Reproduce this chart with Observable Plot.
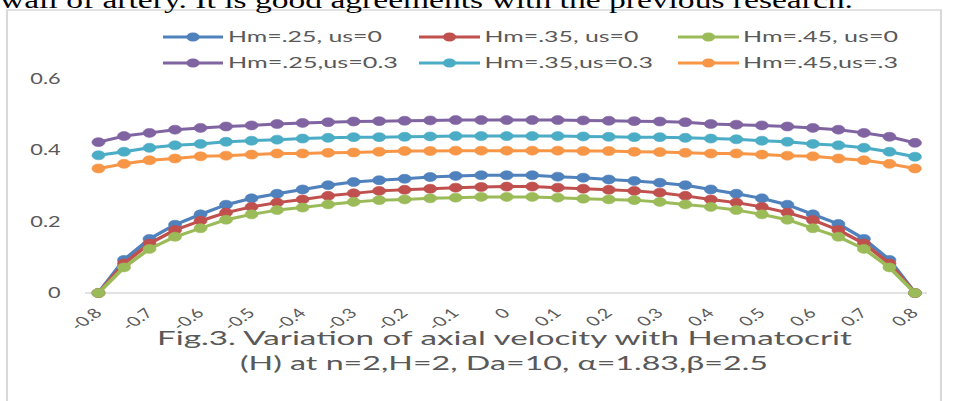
<!DOCTYPE html>
<html><head><meta charset="utf-8">
<script src="https://cdn.jsdelivr.net/npm/d3@7"></script>
<script src="https://cdn.jsdelivr.net/npm/@observablehq/plot@0.6"></script>
<style>
html,body{margin:0;padding:0;background:#fff;overflow:hidden;width:953px;height:401px}
#wrap{position:absolute;left:0;top:0;width:657px;height:401px;transform:scaleX(1.4505);transform-origin:0 0}
#wrap > svg{position:absolute;left:0;top:0}
</style></head><body><div id="wrap"></div>
<script>
// ---- data ----
const xValues = [-0.8,-0.75,-0.7,-0.65,-0.6,-0.55,-0.5,-0.45,-0.4,-0.35,-0.3,-0.25,-0.2,-0.15,-0.1,-0.05,0,0.05,0.1,0.15,0.2,0.25,0.3,0.35,0.4,0.45,0.5,0.55,0.6,0.65,0.7,0.75,0.8];
const seriesNames = ["Hm=.25, us=0","Hm=.35, us=0","Hm=.45, us=0","Hm=.25,us=0.3","Hm=.35,us=0.3","Hm=.45,us=.3"];
const seriesColors = ["#4F81BD","#C0504D","#9BBB59","#8064A2","#4BACC6","#F79646"];
const hm25us0 = [0,0.093,0.152,0.192,0.221,0.248,0.266,0.279,0.291,0.303,0.312,0.317,0.321,0.326,0.329,0.331,0.331,0.331,0.327,0.324,0.319,0.315,0.310,0.303,0.291,0.279,0.266,0.248,0.221,0.194,0.152,0.093,0];
const hm35us0 = [0,0.083,0.139,0.177,0.203,0.226,0.242,0.254,0.263,0.273,0.280,0.287,0.290,0.293,0.296,0.298,0.299,0.299,0.296,0.293,0.290,0.287,0.282,0.273,0.263,0.254,0.242,0.226,0.205,0.177,0.139,0.083,0];
const hm45us0 = [0,0.072,0.124,0.158,0.182,0.206,0.221,0.233,0.240,0.249,0.256,0.261,0.263,0.266,0.268,0.270,0.270,0.270,0.268,0.265,0.263,0.261,0.256,0.249,0.242,0.233,0.221,0.206,0.182,0.158,0.124,0.072,0];
const hm25us03 = [0.424,0.441,0.450,0.459,0.464,0.468,0.471,0.475,0.478,0.480,0.482,0.483,0.484,0.485,0.486,0.486,0.486,0.486,0.486,0.485,0.484,0.483,0.482,0.480,0.475,0.473,0.471,0.468,0.464,0.459,0.450,0.439,0.422];
const hm35us03 = [0.387,0.397,0.408,0.415,0.419,0.425,0.428,0.431,0.434,0.436,0.438,0.438,0.439,0.440,0.441,0.441,0.441,0.441,0.441,0.440,0.439,0.438,0.438,0.436,0.434,0.432,0.428,0.425,0.419,0.415,0.408,0.397,0.383];
const hm45us03 = [0.350,0.363,0.373,0.378,0.384,0.386,0.389,0.392,0.392,0.394,0.395,0.397,0.399,0.399,0.400,0.400,0.400,0.400,0.400,0.399,0.399,0.397,0.396,0.394,0.392,0.392,0.389,0.386,0.384,0.378,0.373,0.363,0.350];
const xTicks = [-0.8,-0.7,-0.6,-0.5,-0.4,-0.3,-0.2,-0.1,0,0.1,0.2,0.3,0.4,0.5,0.6,0.7,0.8];
const xTickLabels = ["-0.8","-0.7","-0.6","-0.5","-0.4","-0.3","-0.2","-0.1","0","0.1","0.2","0.3","0.4","0.5","0.6","0.7","0.8"];
const yTicks = [0,0.2,0.4,0.6];
const yTickLabels = ["0","0.2","0.4","0.6"];
const headerText = "wall of artery. It is good agreements with the previous research.";
const captionLines = ["Fig.3. Variation of axial velocity with Hematocrit","(H) at n=2,H=2, Da=10, \u03B1=1.83,\u03B2=2.5"];

// ---- build ----
const S = 953/657;
const W = 657, H = 401;
const allSeries = [hm25us0, hm35us0, hm45us0, hm25us03, hm35us03, hm45us03];
const rows = allSeries.map((vals, i) => vals.map((v, j) => ({x: xValues[j], y: v, s: seriesNames[i]})));

const marks = [
  Plot.ruleY([0], {stroke: "#d9d9d9", strokeWidth: 1.5}),
  Plot.axisY(yTicks, {tickSize: 0, tickPadding: (85 - 60) / S, fontSize: 15, label: null,
    tickFormat: d => yTickLabels[yTicks.indexOf(d)], fill: "#595959"}),
  Plot.axisX(xTicks, {tickSize: 0, tickRotate: -45, tickPadding: 18, fontSize: 13.5, label: null,
    tickFormat: d => xTickLabels[xTicks.indexOf(d)], fill: "#595959"})
];
rows.forEach((r, i) => {
  marks.push(Plot.line(r, {x: "x", y: "y", stroke: seriesColors[i], strokeWidth: 3}));
  marks.push(Plot.dot(r, {x: "x", y: "y", fill: seriesColors[i], stroke: seriesColors[i], strokeWidth: 0.5, r: 4.5}));
});

const chart = Plot.plot({
  width: W, height: H,
  marginLeft: 85 / S, marginRight: W - 927 / S, marginTop: 79, marginBottom: H - 292.5,
  style: {fontFamily: "Lato, 'Open Sans', sans-serif", color: "#595959", background: "transparent", overflow: "visible"},
  x: {domain: [-0.825, 0.825], label: null},
  y: {domain: [0, 0.6], label: null},
  marks
});

const wrap = document.getElementById("wrap");

// overlay: frame, header text, legend, caption
const ov = d3.select(wrap).append("svg").attr("width", W).attr("height", H)
  .style("font-family", "Lato, 'Open Sans', sans-serif");
ov.append("rect").attr("x", 7 / S).attr("y", 10).attr("width", (941 - 7) / S).attr("height", 600)
  .attr("fill", "#fff").attr("stroke", "#d9d9d9").attr("stroke-width", 1.5);
ov.append("text").attr("x", 0).attr("y", 7.5).attr("font-family", "'Liberation Serif', 'Times New Roman', serif")
  .attr("font-size", 24).attr("fill", "#000").attr("textLength", 853 / S).attr("lengthAdjust", "spacingAndGlyphs")
  .text(headerText);

wrap.appendChild(chart);

const ov2 = d3.select(wrap).append("svg").attr("width", W).attr("height", H)
  .style("font-family", "Lato, 'Open Sans', sans-serif");
const legX = [[163, 223, 228], [419, 480, 484.5], [678, 739, 743]];
const legY = [37, 63];
const legLen = [[154, 154, 155], [170, 168.5, 155]];
seriesNames.forEach((name, i) => {
  const col = i % 3, row = Math.floor(i / 3);
  const [x1, x2, tx] = legX[col];
  const g = ov2.append("g");
  const y = legY[row];
  g.append("line").attr("x1", x1 / S).attr("x2", x2 / S).attr("y1", y).attr("y2", y)
    .attr("stroke", seriesColors[i]).attr("stroke-width", 3);
  g.append("circle").attr("cx", (x1 + x2) / 2 / S).attr("cy", y).attr("r", 4.5).attr("fill", seriesColors[i]);
  g.append("text").attr("x", tx / S).attr("y", y).attr("dy", "0.35em").attr("font-size", 15)
    .attr("fill", "#595959").attr("textLength", legLen[row][col] / S).attr("lengthAdjust", "spacingAndGlyphs")
    .text(name);
});
const capPos = [[504.5, 345, 695], [504, 370, 528]];
captionLines.forEach((t, i) => {
  const [cx, by, len] = capPos[i];
  ov2.append("text").attr("x", cx / S).attr("y", by).attr("text-anchor", "middle").attr("font-size", 19)
    .attr("fill", "#595959").attr("textLength", len / S).attr("lengthAdjust", "spacingAndGlyphs").text(t);
});
</script>
</body></html>
